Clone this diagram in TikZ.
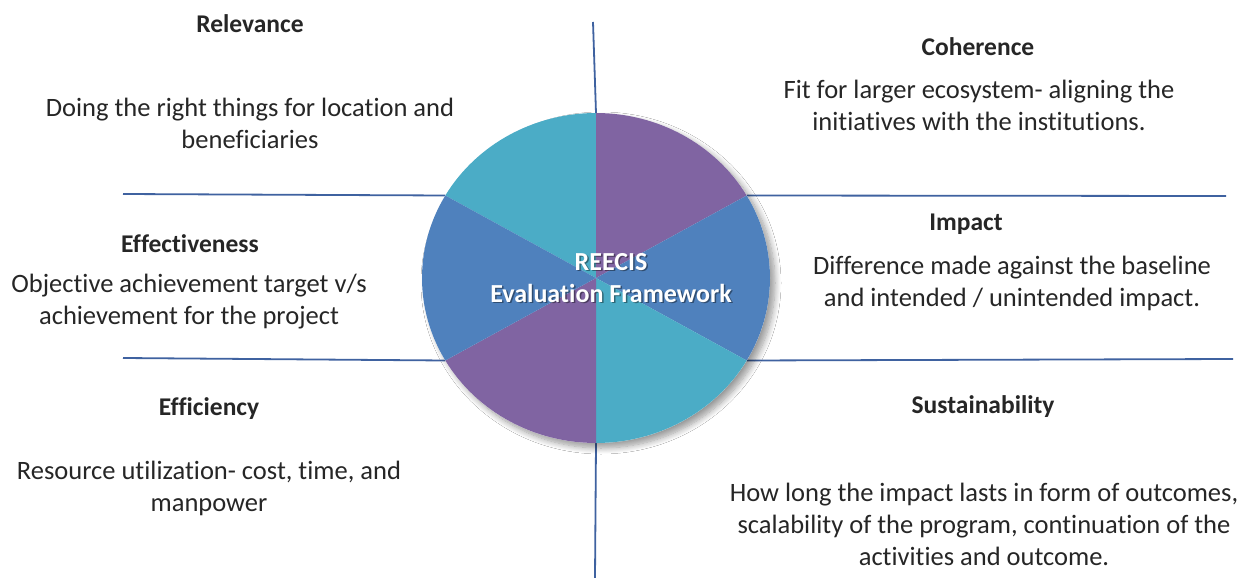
\documentclass[tikz,border=0pt]{standalone}
\usepackage{fontspec}
\setmainfont{Carlito}[RawFeature=-liga]
\usetikzlibrary{shadows.blur,calc}
\definecolor{cteal}{HTML}{4BACC6}
\definecolor{cpurple}{HTML}{8064A2}
\definecolor{cblue}{HTML}{4F81BD}
\definecolor{cline}{HTML}{3F62A0}
\definecolor{ctext}{HTML}{262626}
\tikzset{
  axis/.style={draw=cline, line width=1.8pt},
  head/.style={font=\fontsize{25.5}{30}\selectfont\bfseries, text=ctext, align=center, inner sep=0pt},
  body/.style={font=\fontsize{26.5}{32}\selectfont, text=ctext, align=center, inner sep=0pt},
  ctr/.style={font=\fontsize{26}{32}\selectfont\bfseries, align=center, inner sep=0pt}
}
\begin{document}
\begin{tikzpicture}[x=1pt,y=-1pt]
\useasboundingbox (0,0) rectangle (1251,578);
\fill[white] (0,0) rectangle (1251,578);
\coordinate (c) at (596,278);
\def\rx{174}\def\ry{165}
% boundary points on the ellipse
\coordinate (p90)  at ($(c)+({\rx*cos(-90)},{\ry*sin(-90)})$);
\coordinate (p30)  at ($(c)+({\rx*cos(-30)},{\ry*sin(-30)})$);
\coordinate (pm30) at ($(c)+({\rx*cos(30)},{\ry*sin(30)})$);
\coordinate (pm90) at ($(c)+({\rx*cos(90)},{\ry*sin(90)})$);
\coordinate (p150) at ($(c)+({\rx*cos(-150)},{\ry*sin(-150)})$);
\coordinate (p210) at ($(c)+({\rx*cos(150)},{\ry*sin(150)})$);
% axis line ends
\coordinate (vt) at (593,22);
\coordinate (vb) at (595,578);
\coordinate (lu) at (123,194);
\coordinate (ru) at (1226,196);
\coordinate (ll) at (123,358);
\coordinate (rl) at (1233,359);
% lines
\draw[axis] (vt) -- (p90);
\draw[axis] (pm90) -- (vb);
\draw[axis] (lu) -- (p150);
\draw[axis] (p30) -- (ru);
\draw[axis] (ll) -- (p210);
\draw[axis] (pm30) -- (rl);
% shadow
\fill[blur shadow={shadow xshift=5pt, shadow yshift=-5pt, shadow blur steps=10, shadow blur radius=6pt, shadow opacity=40}, white]
  (c) ellipse [x radius=\rx, y radius=\ry];
% slices
\fill[cteal]   (c) -- (p90)  arc[start angle=-90, end angle=-150, x radius=\rx, y radius=\ry] -- cycle;
\fill[cpurple] (c) -- (p30)  arc[start angle=-30, end angle=-90, x radius=\rx, y radius=\ry] -- cycle;
\fill[cblue]   (c) -- (pm30) arc[start angle=30, end angle=-30, x radius=\rx, y radius=\ry] -- cycle;
\fill[cteal]   (c) -- (pm90) arc[start angle=90, end angle=30, x radius=\rx, y radius=\ry] -- cycle;
\fill[cpurple] (c) -- (p210) arc[start angle=150, end angle=90, x radius=\rx, y radius=\ry] -- cycle;
\fill[cblue]   (c) -- (p150) arc[start angle=210, end angle=150, x radius=\rx, y radius=\ry] -- cycle;
% centre text
\node[ctr, text=black, opacity=0.4] (ctrsh) at (612.5,279.5) {REECIS\\Evaluation Framework};
\node[ctr, text=white] (ctrtxt) at (611,278) {REECIS\\Evaluation Framework};
% labels
\node[head] (h1) at (250,24) {Relevance};
\node[body] (b1) at (250,123) {Doing the right things for location and\\beneficiaries};
\node[head] (h2) at (978,47) {Coherence};
\node[body] (b2) at (979,105) {Fit for larger ecosystem- aligning the\\initiatives with the institutions.};
\node[head] (h3) at (190,244) {Effectiveness};
\node[body] (b3) at (189,302) {Objective achievement target v/s\\achievement for the project};
\node[head] (h4) at (966,224) {Impact};
\node[body] (b4) at (1012,283) {Difference made against the baseline\\and intended / unintended impact.};
\node[head] (h5) at (209,409) {Efficiency};
\node[body] (b5) at (209,488) {Resource utilization- cost, time, and\\manpower};
\node[head] (h6) at (983,407) {Sustainability};
\node[body] (b6) at (984,524) {How long the impact lasts in form of outcomes,\\scalability of the program, continuation of the\\activities and outcome.};
\end{tikzpicture}
\end{document}
